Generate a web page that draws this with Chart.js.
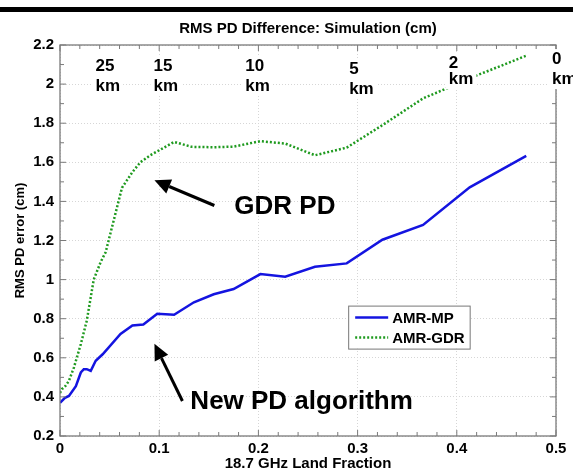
<!DOCTYPE html>
<html><head><meta charset="utf-8">
<script src="https://cdn.jsdelivr.net/npm/chart.js@4"></script>
<style>html,body{margin:0;padding:0;background:#fff;overflow:hidden}</style>
</head><body>
<canvas id="c" width="573" height="474"></canvas>
<script>
// ---- data ----
const mpX  = [0, 0.005, 0.009, 0.016, 0.021, 0.024, 0.027, 0.031, 0.036, 0.043, 0.061, 0.073, 0.084, 0.098, 0.115, 0.135, 0.155, 0.175, 0.202, 0.227, 0.257, 0.289, 0.325, 0.366, 0.413, 0.47];
const mpY  = [0.37, 0.395, 0.405, 0.455, 0.525, 0.542, 0.542, 0.533, 0.585, 0.618, 0.722, 0.765, 0.770, 0.825, 0.820, 0.884, 0.925, 0.952, 1.028, 1.015, 1.066, 1.083, 1.204, 1.28, 1.472, 1.633];
const gdrX = [0, 0.002, 0.0055, 0.009, 0.014, 0.021, 0.027, 0.034, 0.041, 0.046, 0.054, 0.0625, 0.073, 0.081, 0.091, 0.115, 0.133, 0.155, 0.175, 0.202, 0.227, 0.257, 0.289, 0.325, 0.366, 0.387, 0.413, 0.47];
const gdrY = [0.42, 0.44, 0.456, 0.482, 0.55, 0.67, 0.79, 1.0, 1.09, 1.14, 1.30, 1.47, 1.55, 1.60, 1.636, 1.704, 1.679, 1.677, 1.68, 1.708, 1.696, 1.636, 1.675, 1.79, 1.927, 1.972, 2.03, 2.145];
const seriesNames = ['AMR-MP', 'AMR-GDR'];
const xTicks = [0, 0.1, 0.2, 0.3, 0.4, 0.5];
const yTicks = [0.2, 0.4, 0.6, 0.8, 1.0, 1.2, 1.4, 1.6, 1.8, 2.0, 2.2];
const distTop = ['25', '15', '10', '5', '2', '0'];
const distUnit = 'km';
const distX = [0.0358, 0.0942, 0.1868, 0.2915, 0.392, 0.496];

// ---- annotation placement (data units) ----
const distY1 = [2.092, 2.092, 2.092, 2.077, 2.105, 2.128];
const distY2 = [1.990, 1.990, 1.990, 1.974, 2.026, 2.026];
const notes = [
  {text: 'GDR PD', x: 0.1757, y: 1.374, tail: [0.1556, 1.379], tip: [0.0952, 1.508]},
  {text: 'New PD algorithm', x: 0.1314, y: 0.374, tail: [0.1234, 0.379], tip: [0.0952, 0.672]}
];
const legendAt = {x: 0.2905, y: 0.867};

const FONT = '"Liberation Sans", Arial, Helvetica, sans-serif';
const AXIS = '#7a7a7a';
Chart.defaults.font.family = FONT;
Chart.defaults.color = '#000';

const fmt = v => String(+(+v).toFixed(1));

function arrow(ctx, tx, ty, hx, hy) {
  const ang = Math.atan2(hy - ty, hx - tx);
  const L = 16, W = 7.5;
  const bx = hx - L * Math.cos(ang), by = hy - L * Math.sin(ang);
  ctx.strokeStyle = '#000'; ctx.lineWidth = 3;
  ctx.beginPath(); ctx.moveTo(tx, ty); ctx.lineTo(bx, by); ctx.stroke();
  ctx.fillStyle = '#000';
  ctx.beginPath(); ctx.moveTo(hx, hy);
  ctx.lineTo(bx + W * Math.sin(ang), by - W * Math.cos(ang));
  ctx.lineTo(bx - W * Math.sin(ang), by + W * Math.cos(ang));
  ctx.closePath(); ctx.fill();
}

const decor = {
  id: 'decor',
  beforeDraw(chart) {
    const ctx = chart.ctx;
    ctx.save();
    ctx.fillStyle = '#fff'; ctx.fillRect(0, 0, chart.width, chart.height);
    ctx.fillStyle = '#000'; ctx.fillRect(0, 7, chart.width, 5);
    ctx.restore();
  },
  afterDatasetsDraw(chart) {
    const {ctx, chartArea: a, scales: {x, y}} = chart;
    ctx.save();
    // axes box
    ctx.strokeStyle = AXIS; ctx.lineWidth = 1.3;
    ctx.strokeRect(a.left, a.top, a.right - a.left, a.bottom - a.top);
    // ticks (inward, all four sides)
    ctx.lineWidth = 1;
    const tick = (px, len, horiz) => {
      ctx.beginPath();
      if (horiz) { ctx.moveTo(px, a.bottom); ctx.lineTo(px, a.bottom - len); ctx.moveTo(px, a.top); ctx.lineTo(px, a.top + len); }
      else { ctx.moveTo(a.left, px); ctx.lineTo(a.left + len, px); ctx.moveTo(a.right, px); ctx.lineTo(a.right - len, px); }
      ctx.stroke();
    };
    for (let i = 0; i < xTicks.length; i++) {
      tick(x.getPixelForValue(xTicks[i]), 6, true);
      if (i < xTicks.length - 1) {
        const step = (xTicks[i + 1] - xTicks[i]) / 5;
        for (let k = 1; k < 5; k++) tick(x.getPixelForValue(xTicks[i] + k * step), 4, true);
      }
    }
    for (let i = 0; i < yTicks.length; i++) {
      tick(y.getPixelForValue(yTicks[i]), 6, false);
      if (i < yTicks.length - 1) tick(y.getPixelForValue((yTicks[i] + yTicks[i + 1]) / 2), 4, false);
    }
    // distance labels with white background
    ctx.font = 'bold 17px ' + FONT;
    ctx.textBaseline = 'middle'; ctx.textAlign = 'left';
    for (let i = 0; i < distTop.length; i++) {
      const px = x.getPixelForValue(distX[i]);
      const y1 = y.getPixelForValue(distY1[i]), y2 = y.getPixelForValue(distY2[i]);
      const w = Math.max(ctx.measureText(distTop[i]).width, ctx.measureText(distUnit).width);
      ctx.fillStyle = '#fff';
      ctx.fillRect(px - 3, y1 - 10, w + 6, (y2 - y1) + 20);
      ctx.fillStyle = '#000';
      ctx.fillText(distTop[i], px, y1);
      ctx.fillText(distUnit, px, y2);
    }
    // arrows + notes
    ctx.font = 'bold 26px ' + FONT;
    notes.forEach(n => {
      arrow(ctx, x.getPixelForValue(n.tail[0]), y.getPixelForValue(n.tail[1]),
                 x.getPixelForValue(n.tip[0]), y.getPixelForValue(n.tip[1]));
      ctx.fillStyle = '#000';
      ctx.fillText(n.text, x.getPixelForValue(n.x), y.getPixelForValue(n.y));
    });
    // legend
    ctx.font = 'bold 15px ' + FONT;
    const ds = chart.data.datasets;
    const lx = x.getPixelForValue(legendAt.x), ly = y.getPixelForValue(legendAt.y);
    let tw = 0; ds.forEach(d => tw = Math.max(tw, ctx.measureText(d.label).width));
    const bw = 7 + 33 + 4 + tw + 5, bh = 43;
    ctx.fillStyle = '#fff'; ctx.fillRect(lx, ly, bw, bh);
    ctx.strokeStyle = '#777'; ctx.lineWidth = 1; ctx.strokeRect(lx + 0.5, ly + 0.5, bw, bh);
    ds.forEach((d, i) => {
      const ry = ly + 12 + i * 20;
      ctx.strokeStyle = d.borderColor; ctx.lineWidth = d.borderWidth;
      ctx.setLineDash(d.borderDash || []);
      ctx.beginPath(); ctx.moveTo(lx + 7, ry); ctx.lineTo(lx + 40, ry); ctx.stroke();
      ctx.setLineDash([]);
      ctx.fillStyle = '#000';
      ctx.fillText(d.label, lx + 44, ry + 1);
    });
    ctx.restore();
  }
};

const gridCfg = {color: '#d6d6d6', lineWidth: 1, drawTicks: false};
new Chart(document.getElementById('c'), {
  type: 'scatter',
  data: {
    datasets: [
      {label: seriesNames[0], data: mpX.map((v, i) => ({x: v, y: mpY[i]})),
       showLine: true, borderColor: '#1414e0', borderWidth: 2.5, pointRadius: 0, tension: 0, fill: false},
      {label: seriesNames[1], data: gdrX.map((v, i) => ({x: v, y: gdrY[i]})),
       showLine: true, borderColor: '#1f9a1f', borderWidth: 2.5, borderDash: [2, 2], pointRadius: 0, tension: 0, fill: false}
    ]
  },
  options: {
    responsive: false, animation: false, devicePixelRatio: 1,
    layout: {padding: {left: 0, right: 17, top: 0, bottom: 0}},
    plugins: {
      legend: {display: false},
      tooltip: {enabled: false},
      title: {display: true, text: 'RMS PD Difference: Simulation (cm)', fullSize: false,
              font: {size: 15, weight: 'bold'}, color: '#000', padding: {top: 20, bottom: 7}}
    },
    scales: {
      x: {
        type: 'linear', min: 0, max: 0.5,
        afterBuildTicks: s => { s.ticks = xTicks.map(v => ({value: v})); },
        afterFit: s => { s.height = 38; },
        ticks: {font: {size: 15, weight: 'bold'}, color: '#000', padding: 4, maxRotation: 0, autoSkip: false, callback: v => fmt(v)},
        grid: gridCfg,
        border: {display: false, dash: [1, 2]},
        title: {display: true, text: '18.7 GHz Land Fraction', font: {size: 15, weight: 'bold'}, color: '#000', padding: {top: 0, bottom: 1}}
      },
      y: {
        type: 'linear', min: 0.2, max: 2.2,
        afterBuildTicks: s => { s.ticks = yTicks.map(v => ({value: v})); },
        afterFit: s => { s.width = 60; },
        ticks: {font: {size: 15, weight: 'bold'}, color: '#000', padding: 6, autoSkip: false, callback: v => fmt(v)},
        grid: gridCfg,
        border: {display: false, dash: [1, 2]},
        title: {display: true, text: 'RMS PD error (cm)', font: {size: 13, weight: 'bold'}, color: '#000', padding: {top: 13, bottom: 0}}
      }
    }
  },
  plugins: [decor]
});
</script>
</body></html>
